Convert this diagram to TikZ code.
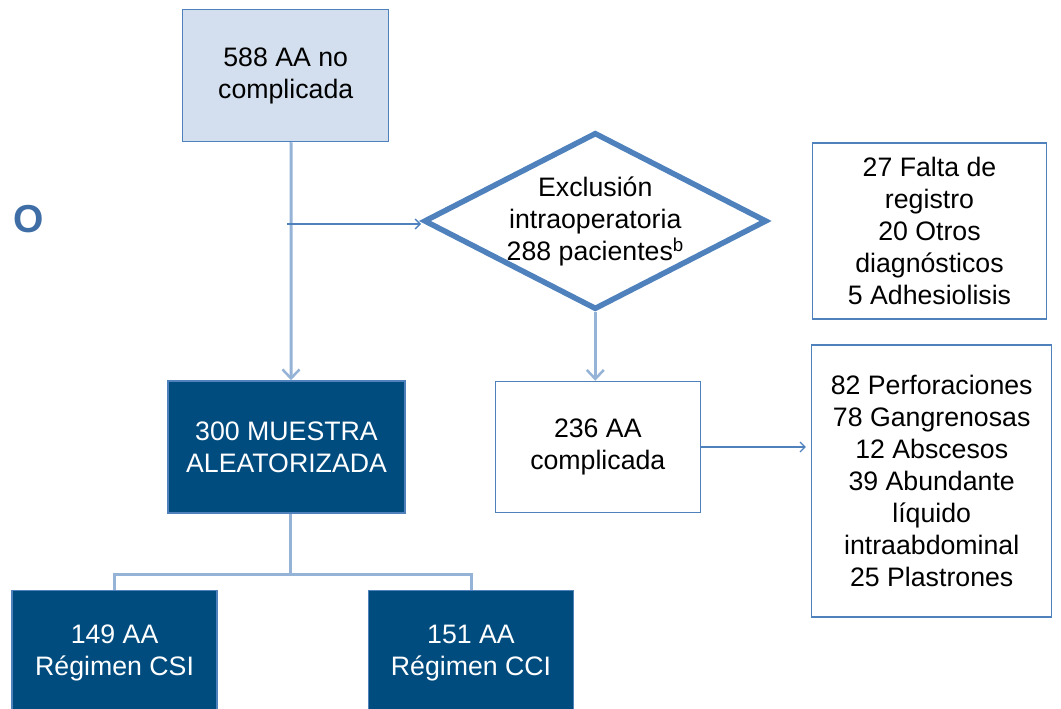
\documentclass[tikz,border=0pt]{standalone}
\usepackage{fontspec}
\setmainfont{Liberation Sans}
\usetikzlibrary{shapes.geometric,arrows.meta}

\definecolor{paleblue}{RGB}{211,223,238}
\definecolor{edgeblue}{RGB}{79,129,189}
\definecolor{linkblue}{RGB}{149,179,215}
\definecolor{navy}{RGB}{0,76,127}
\definecolor{titleblue}{RGB}{63,109,166}

\begin{document}
\begin{tikzpicture}[x=1pt,y=-1pt,font=\fontsize{26.7}{32}\selectfont,
   box/.style={draw=edgeblue,line width=1.5pt,fill=white,align=center,inner sep=0pt},
   darkbox/.style={box,fill=navy,text=white},
   decision/.style={diamond,draw=edgeblue,line width=5.5pt,inner sep=0pt},
   feed/.style={draw=linkblue,line width=3pt,-{Straight Barb[length=9pt,width=17pt,line width=2.5pt]}},
   aside/.style={draw=edgeblue,line width=1.3pt,-{Straight Barb[length=5pt,width=10pt]}},
   tree/.style={draw=linkblue,line width=3pt}]
   \clip (0,0) rectangle (1061,709);
   \node[font=\fontsize{39}{39}\selectfont\bfseries,text=titleblue] (titulo) at (28.5,219) {O};
   \node[box,fill=paleblue,minimum width=206,minimum height=132] (total) at (285.7,75.5) {588 AA no\\complicada};
   \node[decision,minimum width=343,minimum height=177,
         label={[align=center]center:{Exclusión\\intraoperatoria\\288 pacientes\textsuperscript{b}}}] (excl) at (595.3,221) {};
   \node[box,minimum width=234,minimum height=176] (motivos) at (929.5,231) {27 Falta de\\registro\\20 Otros\\diagnósticos\\5 Adhesiolisis};
   \node[darkbox,minimum width=237,minimum height=132] (muestra) at (286.5,447) {300 MUESTRA\\ALEATORIZADA};
   \node[box,minimum width=205,minimum height=131] (compl) at (597.8,447) {236 AA\\complicada};
   \node[box,minimum width=240,minimum height=272] (hallazgos) at (931.7,481) {82 Perforaciones\\78 Gangrenosas\\12 Abscesos\\39 Abundante\\líquido\\intraabdominal\\25 Plastrones};
   \node[darkbox,minimum width=205,minimum height=124] (csi) at (114.6,652.7) {149 AA\\Régimen CSI};
   \node[darkbox,minimum width=205,minimum height=124] (cci) at (471,652.7) {151 AA\\Régimen CCI};
   \coordinate (tap) at (287,224);
   \draw[feed] ([xshift=5.5]total.south) -- ([xshift=4.5]muestra.north);
   \draw[aside] (tap) -- (tap -| excl.west);
   \draw[feed] (excl.south) -- (excl.south |- compl.north);
   \draw[aside,shorten >=5pt] (compl.east) -- (compl.east -| hallazgos.west);
   \draw[tree] ([xshift=4]muestra.south) -- ++(0,61) coordinate (fork);
   \draw[tree] (csi.north) |- (fork) -| (cci.north);
\end{tikzpicture}
\end{document}
